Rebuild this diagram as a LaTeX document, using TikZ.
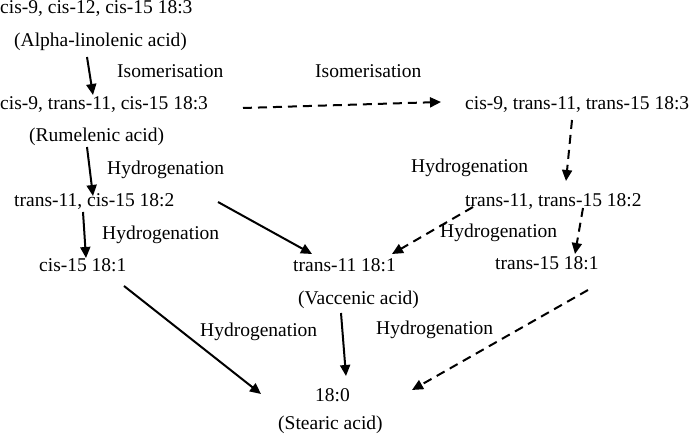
\documentclass[tikz,border=0pt]{standalone}
\usepackage{fontspec}
\setmainfont{Liberation Serif}
\usetikzlibrary{arrows.meta}
\tikzset{
  lbl/.style={anchor=base west, inner sep=0pt, font=\fontsize{19.5}{23}\selectfont},
  conn/.style={line width=2pt, -{Triangle[length=11pt,width=10pt]}},
  solidconn/.style={conn},
  dashconn/.style={conn, dash pattern=on 9pt off 6pt},
}
\begin{document}
\begin{tikzpicture}[x=1pt,y=-1pt]
\useasboundingbox (0,0) rectangle (689,438);
% nodes
\node[lbl] (ala) at (0,14) {cis-9, cis-12, cis-15 18:3};
\node[lbl] (alaN) at (14,47) {(Alpha-linolenic acid)};
\node[lbl] (iso1) at (117,78) {Isomerisation};
\node[lbl] (iso2) at (315,78) {Isomerisation};
\node[lbl] (rum) at (0,110) {cis-9, trans-11, cis-15 18:3};
\node[lbl] (rumN) at (29,142) {(Rumelenic acid)};
\node[lbl] (ctt) at (465,110) {cis-9, trans-11, trans-15 18:3};
\node[lbl] (h1) at (107,175) {Hydrogenation};
\node[lbl] (h2) at (411,173) {Hydrogenation};
\node[lbl] (tc) at (14,207) {trans-11, cis-15 18:2};
\node[lbl] (tt) at (465,207) {trans-11, trans-15 18:2};
\node[lbl] (h3) at (102,240) {Hydrogenation};
\node[lbl] (h4) at (440,238) {Hydrogenation};
\node[lbl] (c15) at (39,272) {cis-15 18:1};
\node[lbl] (t11) at (293,272) {trans-11 18:1};
\node[lbl] (t15) at (495,270) {trans-15 18:1};
\node[lbl] (vacN) at (298,305) {(Vaccenic acid)};
\node[lbl] (h5) at (200,337) {Hydrogenation};
\node[lbl] (h6) at (376,335) {Hydrogenation};
\node[lbl] (st) at (315,402) {18:0};
\node[lbl] (stN) at (278,430) {(Stearic acid)};
% connector end points
\coordinate (a1s) at (87,57);   \coordinate (a1e) at (93,95);
\coordinate (a2s) at (243,108); \coordinate (a2e) at (441,102);
\coordinate (a3s) at (87,147);  \coordinate (a3e) at (93,196);
\coordinate (a4s) at (83,212);  \coordinate (a4e) at (86,258);
\coordinate (a5s) at (218,202); \coordinate (a5e) at (312,254);
\coordinate (a6s) at (124,286); \coordinate (a6e) at (261,394);
\coordinate (a7s) at (341,313); \coordinate (a7e) at (346,376);
\coordinate (a8s) at (588,290); \coordinate (a8e) at (412,390);
\coordinate (a9s) at (572,120); \coordinate (a9e) at (566,181);
\coordinate (a10s) at (473,207); \coordinate (a10e) at (392,254);
\coordinate (a11s) at (583,208); \coordinate (a11e) at (575,254);
% connectors
\draw[solidconn] (a1s) -- (a1e);
\draw[dashconn] (a2s) -- (a2e);
\draw[solidconn] (a3s) -- (a3e);
\draw[solidconn] (a4s) -- (a4e);
\draw[solidconn] (a5s) -- (a5e);
\draw[solidconn] (a6s) -- (a6e);
\draw[solidconn] (a7s) -- (a7e);
\draw[dashconn] (a8s) -- (a8e);
\draw[dashconn] (a9s) -- (a9e);
\draw[dashconn] (a10s) -- (a10e);
\draw[dashconn] (a11s) -- (a11e);
\end{tikzpicture}
\end{document}
